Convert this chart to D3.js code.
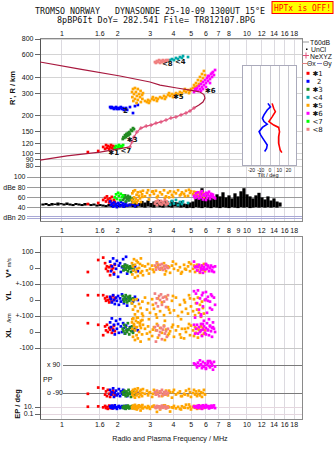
<!DOCTYPE html>
<html><head><meta charset="utf-8">
<script src="https://cdn.jsdelivr.net/npm/d3@7"></script>
<style>
body{margin:0;background:#fff}
svg{display:block}
text{font-family:"Liberation Sans",Arial,sans-serif;fill:#111}
</style></head><body>
<svg id="chart" width="335" height="451"></svg>
<script>
// Dynasonde ionogram: echo ranges, amplitudes, velocities, locations, polarisation
const titleLine1 = "TROMSO NORWAY   DYNASONDE 25-10-09 1300UT 15°E";
const titleLine2 = "8pBP6It DoY= 282.541 File= TR812107.BPG";
const warning = "HPTx is OFF!";
const xTitle = "Radio and Plasma Frequency / MHz";

const freqTicks = [1, 1.6, 2, 3, 4, 5, 6, 7, 8, 10, 12, 14, 16, 18];
const freqTicksMid = [1, 1.6, 2, 3, 4, 5, 6, 7, 8, 9, 10, 12, 14, 16, 18];
const rangeTicks = [80, 90, 100, 120, 150, 200, 300, 400, 600, 800];
const ampTicks = [100, 80, 60, 40, 20];
const ampTickText = ["100", "dBe 80", "60", "40", "dBn 20"];
const vTicks = [100, 0];
const vTickText = ["100", "0"];
const ylTicks = [100, 0, -100];
const ylTickText = ["+-100", "0", "+-100"];
const xlTicks = [0, -100];
const xlTickText = ["0", "-100"];
const ppTicks = [90, -90];
const ppTickText = ["x 90", "o -90"];
const epTicks = [10, 0.1];
const epTickText = ["10.", "0.1"];
const tiltTicks = [-20, -10, 0, 10, 20];

// echo rows: [MHz, R' km, dBe, V* m/s, YL km, XL km, PP deg, EP deg]
const echo1 = [
 [1.38,103,47,-25,30,55,-95,12],[1.57,105,49,50,30,45,-55,15],[1.67,113,55,65,30,-20,-60,8],
 [1.71,109,59,30,10,35,-100,20],[1.73,117,52,-5,-5,10,-80,5],[1.75,111,62,10,20,45,-110,10],
 [1.77,115,56,-20,0,0,-70,3],[1.80,109,50,5,-15,25,-95,25],[1.82,113,58,-45,5,15,-115,6],
 [1.84,117,53,15,15,30,-85,12],[1.86,111,61,-10,-10,-5,-100,4],[1.89,115,48,0,25,20,-75,18],
 [1.91,109,55,-30,0,40,-90,7],[1.93,113,51,20,10,5,-105,9]
];
const echo2 = [
 [1.82,233,52,40,20,60,-70,15],[1.84,229,45,-20,5,30,-100,6],[1.86,233,48,10,-15,85,-85,25],
 [1.89,229,42,60,30,10,-60,4],[1.91,225,50,-40,0,45,-115,10],[1.93,229,44,25,-25,-15,-90,30],
 [1.96,233,47,-5,15,70,-75,8],[1.98,225,41,45,-5,20,-105,3],[2.01,229,49,-55,25,50,-95,12],
 [2.03,225,46,15,-30,-5,-65,20],[2.06,229,43,30,10,80,-110,5],[2.08,233,51,-25,-10,35,-80,9],
 [2.11,225,45,5,35,0,-95,18],[2.14,229,48,55,0,55,-70,7],[2.16,221,42,-10,-20,25,-100,14],
 [2.19,225,46,20,15,-10,-85,4],[2.22,229,50,70,5,40,-90,22],[2.25,221,44,-35,-35,15,-110,11],
 [2.33,233,45,0,10,30,-95,6],[2.42,209,47,-15,-10,5,-80,9],[2.48,237,43,10,20,20,-100,13],
 [2.57,242,46,-20,0,10,-90,8]
];
const echo3 = [
 [2.13,130.5,55,10,25,20,-85,10],[2.15,135,62,-15,5,5,-100,5],[2.17,133,58,5,-10,45,-75,20],
 [2.19,140,64,20,15,-10,-95,8],[2.21,135,52,-10,30,30,-110,3],[2.23,143,60,0,0,10,-80,15],
 [2.25,138,57,15,-15,0,-90,6],[2.27,145.5,63,-20,20,55,-105,25],[2.29,140,54,5,10,15,-70,9],
 [2.31,148,59,-5,-5,-15,-95,4],[2.33,143,61,10,25,25,-85,12],[2.36,154,56,-25,5,5,-115,7],
 [2.39,151,53,0,-20,35,-90,18],[2.42,159,58,15,10,-5,-80,5],[2.45,156,50,-10,0,15,-100,11]
];
const echo4 = [
 [3.74,537,50,null,null,null,null,null],[3.84,546,46,null,null,null,null,null],
 [3.93,556,53,null,null,null,null,null],[4.03,546,48,null,null,null,null,null],
 [4.13,567,55,null,null,null,null,null],[4.24,556,45,null,null,null,null,null],
 [4.34,577,51,null,null,null,null,null],[4.45,567,47,null,null,null,null,null],
 [4.51,588,52,null,null,null,null,null],[4.80,577,49,null,null,null,null,null]
];
const echo5 = [
 [2.39,306,55,30,-20,60,-80,10],[2.40,279,68,-40,-120,20,-100,4],[2.42,323,50,10,-60,-30,-70,25],
 [2.43,260,72,-15,0,85,-110,8],[2.45,295,60,55,-150,40,-90,15],[2.48,329,52,-60,-40,-50,-65,3],
 [2.48,270,74,20,-90,10,-120,40],[2.51,306,57,-25,-170,70,-85,6],[2.53,251,65,45,5,-20,-105,12],
 [2.54,285,49,-5,-110,30,-75,2],[2.57,323,70,35,-70,-40,-95,20],[2.57,265,54,-50,-140,90,-60,5],
 [2.61,295,63,0,-25,0,-115,30],[2.64,279,58,25,-160,55,-80,9],[2.66,312,71,-30,-50,-60,-100,1],
 [2.67,255,51,60,-130,25,-70,14],[2.71,290,66,-20,-85,-15,-110,7],[2.72,270,61,15,-10,75,-90,35],
 [2.74,300,73,-45,-100,45,-65,4],
 [2.81,260,62,10,15,20,-95,10],[2.88,255,69,-15,-60,-10,-75,5],[2.92,265,74,25,-20,35,-105,18],
 [2.99,260,64,-5,-80,0,-85,3],[3.07,270,71,15,5,-25,-115,12],[3.14,265,67,-25,-55,30,-70,25],
 [3.22,274,73,5,-90,10,-100,6],[3.30,270,63,20,10,-35,-90,15],[3.39,279,70,-10,-70,25,-80,2],
 [3.47,274,66,0,-15,-5,-110,9],[3.56,285,74,30,-95,40,-95,30],[3.65,279,62,-20,20,15,-75,5],
 [3.74,290,69,10,-45,-20,-105,14],[3.84,285,72,-30,-80,5,-85,0.5],[3.93,295,65,15,-5,30,-120,8],
 [4.03,290,71,-5,-65,-30,-70,20],[4.13,300,68,25,15,10,-100,4],[4.24,295,74,-15,-100,35,-90,11],
 [4.34,306,64,5,-30,-15,-80,3],[4.45,300,70,-25,-75,20,-110,16],[4.57,312,67,20,0,-40,-95,7],
 [4.68,306,73,-10,-55,0,-75,45],[4.80,317,63,10,-85,25,-105,5],[4.92,312,69,-20,10,-20,-85,12],
 [4.98,323,72,25,-40,40,-115,2],
 [5.11,329,66,-5,-70,10,-90,9],[5.17,347,71,15,5,-25,-70,20],[5.24,335,64,-25,-95,30,-100,6],
 [5.30,360,70,5,-20,-5,-80,15],[5.37,341,67,20,-60,20,-110,3],[5.43,380,62,-15,15,-35,-95,10],
 [5.50,354,69,10,-80,15,-75,25],[5.57,402,65,-30,-30,5,-105,4],[5.64,374,71,0,-105,35,-85,8],
 [5.71,424,63,15,-10,-20,-115,18],[5.78,394,68,-10,-50,25,-90,5],[5.85,448,60,25,-85,-10,-70,12],
 [5.93,416,66,-20,0,10,-100,7],
 [2.95,251,56,-35,-120,-45,-90,8],[3.26,260,60,35,-110,50,-80,0.4],[3.60,270,59,-40,-130,-50,-100,30],
 [3.98,279,61,40,25,45,-85,6],[4.40,290,66,-35,-120,-35,-110,2],[4.86,300,75,35,30,50,-65,50],
 [3.10,279,72,-10,-30,15,-95,12],[3.79,300,60,5,-60,-10,-75,9],[4.62,323,62,-5,-15,20,-100,6]
];
const echo6 = [
 [5.30,317,68,10,40,20,90,10],[5.37,329,62,-15,-20,45,75,20],[5.43,312,70,5,60,-10,105,5],
 [5.50,341,58,20,-60,30,85,30],[5.57,323,65,-25,10,0,120,8],[5.64,354,60,0,-100,50,95,15],
 [5.71,335,72,15,30,-25,70,3],[5.78,367,56,-30,-40,15,110,25],[5.85,347,66,5,-130,35,80,12],
 [5.93,380,63,-10,0,-5,100,6],[6.00,360,69,25,50,25,65,35],[6.08,394,59,-5,-80,55,90,9],
 [6.15,374,64,10,20,10,115,18],[6.23,409,71,-20,-120,-20,85,4],[6.31,387,57,0,-10,40,75,14],
 [6.39,424,67,15,35,5,105,22],[6.47,402,61,-15,-60,-30,95,7],[6.55,440,65,5,-140,30,60,11],
 [6.63,416,60,-25,15,20,110,28],[6.72,456,58,10,-30,0,80,5],[5.17,306,63,40,55,45,100,16],
 [5.64,312,70,-10,-90,10,90,9],[6.00,335,55,20,5,-15,70,13],[6.31,360,62,0,-50,35,115,6],
 [6.47,432,66,-20,25,25,85,20],[5.24,323,59,5,-110,-10,95,8],[6.15,409,68,15,-5,15,105,12],
 [5.78,323,64,-5,45,50,80,30]
];
const echo7 = [
 [1.93,111,60,null,null,null,null,null],[1.96,115,66,null,null,null,null,null],
 [1.98,109,57,null,null,null,null,null],[2.01,113,69,null,null,null,null,null],
 [2.03,117,63,null,null,null,null,null],[2.06,111,55,null,null,null,null,null],
 [2.08,115,67,null,null,null,null,null],[2.11,113,61,null,null,null,null,null],
 [2.14,117,64,null,null,null,null,null]
];
const echo8 = [
 [3.18,527,48,15,40,30,-85,10],[3.22,518,52,-10,-20,-60,-100,5],[3.26,537,45,30,10,10,-75,20],
 [3.30,527,54,5,-40,40,-95,8],[3.35,546,50,-5,25,-20,-110,15],[3.39,518,47,20,0,0,-80,3],
 [3.43,537,53,0,35,25,-90,12],[3.47,527,46,25,-30,-45,-70,25],[3.51,546,51,-12,15,15,-105,6],
 [3.56,537,49,10,-10,35,-85,9],[3.60,527,55,-5,20,-10,-95,18],[3.65,546,46,15,-44,5,-80,4],
 [3.69,537,52,5,5,-30,-100,11],[3.74,546,48,0,30,20,-90,7]
];
const classColors = ["#ff0000", "#0000ff", "#228b22", "#00a8a8", "#ffa500", "#ff00ff", "#00ff00", "#f08080"];
const classNames = ["✱1", "2", "✱3", "<4", "✱5", "✱6", "<7", "<8"];
// echo class tags placed beside their traces: [text, MHz, km]
const echoTags = [["✱1",1.78,103],["2",2.14,217],["✱3",2.24,130],["<4",4.08,527],
 ["✱5",3.98,282],["✱6",5.93,314],["<7",2.07,106],["<8",3.47,508]];

// T60dB noise level: [MHz, low dB, high dB]
const t60 = [
 [0.789,44,48],[0.820,45,49],[0.851,43,47],[0.883,44,49],[0.917,45,48],[0.951,44,50],[0.988,46,49],
 [1.025,44,48],[1.064,45,50],[1.105,44,48],[1.147,43,47],[1.190,45,49],[1.236,44,48],[1.283,43,47],
 [1.331,44,49],[1.382,45,48],[1.435,43,47],[1.489,44,48],[1.546,42,46],[1.605,43,47],[1.666,42,46],
 [1.729,41,45],[1.795,42,47],[1.864,41,46],[1.934,42,46],[2.008,41,45],[2.084,42,47],[2.163,40,45],
 [2.245,41,46],[2.331,42,48],[2.420,41,50],[2.512,40,52],[2.607,42,49],[2.706,41,53],[2.810,40,50],
 [2.916,42,54],[3.027,41,49],[3.142,40,52],[3.262,42,50],[3.386,41,55],[3.515,40,51],[3.648,42,53],
 [3.787,41,49],[3.931,40,54],[4.081,42,51],[4.236,41,50],[4.397,40,53],[4.565,41,48],[4.738,39,47],
 [4.920,40,50],[5.107,39,52],[5.301,41,58],[5.503,40,62],[5.712,39,78],[5.930,41,66],[6.155,40,60],
 [6.389,39,64],[6.632,41,58],[6.884,40,66],[7.146,39,62],[7.418,41,70],[7.700,40,60],[7.993,39,64],
 [8.297,41,58],[8.612,40,68],[8.940,39,62],[9.280,41,72],[9.630,40,78],[10.00,41,66],[10.38,39,62],
 [10.77,40,58],[11.18,41,64],[11.61,40,69],[12.05,41,60],[12.51,40,56],[12.98,41,62],[13.48,40,54],
 [13.99,41,58],[14.53,40,52],[15.08,42,50]
];

// electron density profile: [plasma MHz, true height km]
const profileBottom = [[0.761,89],[1.064,96],[1.605,103],[2.33,113]];
const neXYZ = [[2.33,113],[2.39,124],[2.45,135],[2.54,148],[2.67,159],[2.85,165],[3.03,168],[3.22,174],
 [3.43,178],[3.65,184],[3.88,191],[4.13,194.5],[4.40,202],[4.68,209],[4.92,217],[5.17,229]];
const profileTop = [[5.17,229],[5.50,242],[5.78,255],[5.93,274],[5.85,292],[5.57,306],[5.11,314],
 [4.18,329],[3.39,347],[2.99,367],[2.06,409],[1.251,464],[0.761,527]];

// tilt profiles: [deg, true height km]
const tiltX = [[2.3,249],[4,228],[5.8,214],[2.3,195],[-1.2,179],[4,168],[9.3,161],[10.3,149],
 [9.3,136],[9.3,121],[11,107],[12.8,102]];
const tiltY = [[-2.3,249],[0.5,234],[-3,221],[-6.5,202],[-8.2,190],[-6.5,179],[-3,171],[-8.2,161],
 [-11.8,149],[-10,140],[-6.5,128],[-3,117],[-3.7,110],[-5.8,104]];

const svg = d3.select("#chart");
svg.append("rect").attr("width", 335).attr("height", 451).attr("fill", "#fff");

const x = d3.scaleLog().domain([0.7606, 19.83]).range([40, 302]);
const yR = d3.scaleLog().domain([80, 800]).range([166, 39]);
const yA = d3.scaleLinear().domain([20, 100]).range([217.8, 177]);
const yV = d3.scaleLinear().domain([-100, 100]).range([284, 252]);
const yYL = d3.scaleLinear().domain([-100, 100]).range([316, 284]);
const yXL = d3.scaleLinear().domain([-100, 100]).range([348, 316]);
const yPP = d3.scaleLinear().domain([-90, 90]).range([393, 365]);
const yEP = d3.scaleLog().domain([0.1, 10]).range([414, 407]);
const xTilt = d3.scaleLinear().domain([-20, 20]).range([251.5, 288.5]);

const upperPanel = {y0: 38.5, y1: 221};
const lowerPanel = {y0: 236.5, y1: 419};
const L = 40, R = 302;

const g = svg.append("g").attr("shape-rendering", "crispEdges");
function hline(y, x0, x1, color, w) {
  g.append("line").attr("x1", x0).attr("x2", x1).attr("y1", y).attr("y2", y)
    .attr("stroke", color).attr("stroke-width", w || 1);
}
// vertical frequency grid
freqTicks.forEach(f => {
  g.append("line").attr("x1", x(f)).attr("x2", x(f)).attr("y1", upperPanel.y0).attr("y2", upperPanel.y1).attr("stroke", "#dcdae0");
  g.append("line").attr("x1", x(f)).attr("x2", x(f)).attr("y1", lowerPanel.y0).attr("y2", lowerPanel.y1).attr("stroke", "#dcdae0");
});
// range grid + labels
rangeTicks.forEach(h => {
  hline(yR(h), L, R, "#d4d4d4");
  hline(yR(h), 35, L, "#666");
  svg.append("text").attr("x", 33.5).attr("y", yR(h)).attr("dy", "0.35em").attr("text-anchor", "end")
    .attr("font-size", 7).text(h);
});
// amplitude lines + labels
ampTicks.forEach((a, i) => {
  if (a === 20) {
    hline(yA(a) - 1, 27, R, "#a9a9d6");
    hline(yA(a) + 1, 27, R, "#a9a9d6");
  } else hline(yA(a), 27, R, "#9a9a9a");
  svg.append("text").attr("x", 25.5).attr("y", yA(a)).attr("dy", "0.35em").attr("text-anchor", "end")
    .attr("font-size", 7).text(ampTickText[i]);
});
// lower panel horizontal lines
hline(yV(100), L, R, "#e8e8e8");
[yV(-100), yYL(-100), yXL(-100)].forEach(y => hline(y, L, R, "#c8c8c8"));
ppTicks.forEach(p => hline(yPP(p), 63, R, "#7a7a7a"));
epTicks.forEach(e => hline(yEP(e), L, R, "#e4d6de"));
function leftLabels(ticks, texts, scale) {
  ticks.forEach((t, i) => {
    hline(scale(t), 35, L, "#666");
    svg.append("text").attr("x", 33.5).attr("y", scale(t)).attr("dy", "0.35em").attr("text-anchor", "end")
      .attr("font-size", 7).text(texts[i]);
  });
}
leftLabels(vTicks, vTickText, yV);
leftLabels(ylTicks, ylTickText, yYL);
leftLabels(xlTicks, xlTickText, yXL);
leftLabels(epTicks, epTickText, yEP);
ppTicks.forEach((p, i) => {
  svg.append("text").attr("x", 47).attr("y", yPP(p)).attr("dy", "0.35em").attr("font-size", 7).text(ppTickText[i]);
});
svg.append("text").attr("x", 43).attr("y", (yPP(90) + yPP(-90)) / 2 + 1).attr("dy", "0.35em")
  .attr("font-size", 7).text("PP");

// frames
[upperPanel, lowerPanel].forEach(p => {
  g.append("rect").attr("x", L).attr("y", p.y0).attr("width", R - L).attr("height", p.y1 - p.y0)
    .attr("fill", "none").attr("stroke", "#8a8a8a");
  g.append("line").attr("x1", L).attr("x2", L).attr("y1", p.y0).attr("y2", p.y1).attr("stroke", "#555");
});

// frequency axis labels
function freqLabels(ticks, y) {
  ticks.forEach(f => svg.append("text").attr("x", x(f)).attr("y", y).attr("text-anchor", "middle")
    .attr("font-size", 7).text(f));
}
freqLabels(freqTicks, 36);
freqLabels(freqTicksMid, 233);
freqLabels(freqTicks, 427);
svg.append("text").attr("x", 170).attr("y", 441).attr("text-anchor", "middle").attr("font-size", 7.2)
  .text(xTitle);

// axis titles
function vtext(tx, ty, str, size, weight) {
  svg.append("text").attr("transform", `translate(${tx},${ty}) rotate(-90)`).attr("text-anchor", "middle")
    .attr("font-size", size).attr("font-weight", weight || "bold").text(str);
}
vtext(15, 88, "R', R / km", 7.5);
const vt = svg.append("text").attr("transform", "translate(11,268) rotate(-90)").attr("text-anchor", "middle");
vt.append("tspan").attr("font-size", 8).attr("font-weight", "bold").text("V*");
vt.append("tspan").attr("font-size", 5.5).attr("dx", 2).text("m/s");
vtext(11, 296, "YL", 8);
vtext(11, 318, "/km", 6, "normal");
vtext(11, 333, "XL", 8);
vtext(20, 404, "EP / deg", 7.5);

// title block
const mono = "'DejaVu Sans Mono','Liberation Mono',monospace";
svg.append("text").attr("x", 35).attr("y", 14).style("font-family", mono)
  .style("white-space", "pre").attr("font-size", 8).attr("textLength", 230)
  .attr("lengthAdjust", "spacingAndGlyphs").text(titleLine1);
svg.append("text").attr("x", 57).attr("y", 22.5).style("font-family", mono)
  .style("white-space", "pre").attr("font-size", 8).attr("textLength", 198)
  .attr("lengthAdjust", "spacingAndGlyphs").text(titleLine2);
svg.append("rect").attr("x", 272).attr("y", 1.5).attr("width", 61).attr("height", 12)
  .attr("fill", "#ffff00").attr("stroke", "#ff0000");
svg.append("text").attr("x", 274).attr("y", 11).style("font-family", mono).style("fill", "#ff0000")
  .attr("font-size", 8).attr("textLength", 57).attr("lengthAdjust", "spacingAndGlyphs").text(warning);

// tilt inset
const insetBot = 165;
svg.append("rect").attr("x", 242.5).attr("y", 65.5).attr("width", 54).attr("height", insetBot - 65.5)
  .attr("fill", "#fff").attr("stroke", "#aab").attr("shape-rendering", "crispEdges");
tiltTicks.forEach(t => {
  svg.append("line").attr("x1", xTilt(t)).attr("x2", xTilt(t)).attr("y1", 66).attr("y2", insetBot)
    .attr("stroke", "#c8c8d0").attr("shape-rendering", "crispEdges");
  svg.append("text").attr("x", xTilt(t)).attr("y", 171.5).attr("text-anchor", "middle")
    .attr("font-size", 5).text(t);
});
svg.append("text").attr("x", 268).attr("y", 177).attr("text-anchor", "middle").attr("font-size", 5.5)
  .text("Tilt / deg");
const tiltLine = d3.line().x(d => xTilt(d[0])).y(d => yR(d[1]));
svg.append("path").attr("d", tiltLine(tiltY)).attr("fill", "none").attr("stroke", "#0000ff").attr("stroke-width", 1.6);
svg.append("path").attr("d", tiltLine(tiltX)).attr("fill", "none").attr("stroke", "#ff0000").attr("stroke-width", 1.6);

// T60dB noise bars
svg.append("g").selectAll("rect").data(t60).join("rect")
  .attr("x", d => x(d[0]) - 1.6).attr("width", 3.2)
  .attr("y", d => yA(d[2])).attr("height", d => yA(d[1]) - yA(d[2])).attr("fill", "#000");

// echoes in every panel
const echoSets = [echo1, echo2, echo3, echo4, echo5, echo6, echo7, echo8];
const panelScales = [yR, yA, yV, yYL, yXL, yPP, yEP];
const sz = 2.7;
echoSets.forEach((rows, ci) => {
  const cg = svg.append("g").attr("fill", classColors[ci]);
  panelScales.forEach((sc, pi) => {
    rows.filter(r => r[pi + 1] !== null).forEach(r => {
      cg.append("rect").attr("x", x(r[0]) - sz / 2).attr("y", sc(r[pi + 1]) - sz / 2)
        .attr("width", sz).attr("height", sz);
    });
  });
});

// profile
const pl = d3.line().x(d => x(d[0])).y(d => yR(d[1]));
svg.append("path").attr("d", pl(profileBottom)).attr("fill", "none").attr("stroke", "#a8183e").attr("stroke-width", 1.2);
svg.append("path").attr("d", pl(profileTop)).attr("fill", "none").attr("stroke", "#a8183e").attr("stroke-width", 1.2);
svg.append("path").attr("d", pl(neXYZ)).attr("fill", "none").attr("stroke", "#e0507a").attr("stroke-width", 1.2);
neXYZ.forEach(d => {
  const cx = x(d[0]), cy = yR(d[1]);
  svg.append("path").attr("d", `M${cx - 2},${cy}H${cx + 2}M${cx},${cy - 2}V${cy + 2}`)
    .attr("stroke", "#e0507a").attr("stroke-width", 1);
});

// echo class tags
echoTags.forEach(t => {
  svg.append("text").attr("x", x(t[1])).attr("y", yR(t[2])).attr("dy", "0.35em")
    .style("font-family", "'DejaVu Sans',sans-serif").attr("font-weight", "bold").attr("font-size", 7)
    .text(t[0]);
});

// legend
const lg = svg.append("g");
lg.append("line").attr("x1", 303).attr("x2", 309).attr("y1", 42).attr("y2", 42).attr("stroke", "#999");
lg.append("text").attr("x", 310).attr("y", 44.5).attr("font-size", 6.8).text("T60dB");
lg.append("rect").attr("x", 306).attr("y", 48.5).attr("width", 1.5).attr("height", 1.5).attr("fill", "#000");
lg.append("text").attr("x", 311).attr("y", 51.5).attr("font-size", 6.8).text("UnCl");
lg.append("path").attr("d", "M303,55.5H309M306,52.5V58.5").attr("stroke", "#e0507a");
lg.append("text").attr("x", 310).attr("y", 58.5).attr("font-size", 6.8).text("NeXYZ");
lg.append("line").attr("x1", 302).attr("x2", 307).attr("y1", 63.5).attr("y2", 63.5).attr("stroke", "#e08080");
lg.append("text").attr("x", 307).attr("y", 66).attr("font-size", 6.8).text("Θx");
lg.append("line").attr("x1", 317).attr("x2", 322).attr("y1", 63.5).attr("y2", 63.5).attr("stroke", "#8080d0");
lg.append("text").attr("x", 323).attr("y", 66).attr("font-size", 6.8).text("Θy");
classNames.forEach((n, i) => {
  const cy = 73.3 + i * 8;
  lg.append("rect").attr("x", 306.5).attr("y", cy - 1.5).attr("width", 3).attr("height", 3).attr("fill", classColors[i]);
  lg.append("text").attr("x", n === "2" ? 317 : 312.5).attr("y", cy).attr("dy", "0.35em")
    .style("font-family", "'DejaVu Sans',sans-serif").attr("font-size", 7).text(n);
});
</script></body></html>
